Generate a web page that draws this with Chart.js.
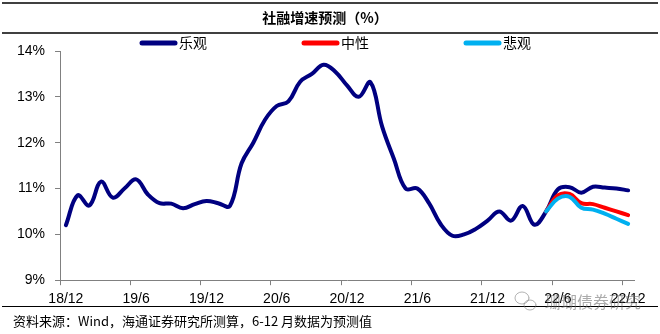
<!DOCTYPE html>
<html>
<head>
<meta charset="utf-8">
<script src="https://cdn.jsdelivr.net/npm/chart.js@4.4.1/dist/chart.umd.min.js"></script>
<style>
  html, body { margin: 0; padding: 0; background: #fff; }
  #wrap { width: 660px; height: 334px; position: relative; }
</style>
</head>
<body>
<div id="wrap"><canvas id="tsfChart"></canvas></div>
<script>
// month categories, 18/12 .. 22/12
const months = [
  '18/12',
  '19/1', '19/2', '19/3', '19/4', '19/5', '19/6', '19/7', '19/8', '19/9', '19/10', '19/11', '19/12',
  '20/1', '20/2', '20/3', '20/4', '20/5', '20/6', '20/7', '20/8', '20/9', '20/10', '20/11', '20/12',
  '21/1', '21/2', '21/3', '21/4', '21/5', '21/6', '21/7', '21/8', '21/9', '21/10', '21/11', '21/12',
  '22/1', '22/2', '22/3', '22/4', '22/5', '22/6', '22/7', '22/8', '22/9', '22/10', '22/11', '22/12'
];

// 乐观 (history + optimistic forecast), %
const optimistic = [
  10.20,
  10.85, 10.63, 11.15, 10.80, 11.00, 11.20, 10.87, 10.68, 10.67, 10.57, 10.66, 10.73,
  10.68, 10.62, 11.55, 12.00, 12.50, 12.80, 12.90, 13.33, 13.50, 13.70, 13.55, 13.25,
  13.00, 13.32, 12.35, 11.65, 11.00, 11.00, 10.68, 10.22, 9.97, 10.00, 10.12, 10.30,
  10.50, 10.30, 10.62, 10.21, 10.50, 10.98, 11.03, 10.91, 11.04, 11.02, 11.00, 10.96
];

// forecast branches start at 22/5
const forecastFrom = '22/5';
const neutral = [10.50, 10.85, 10.88, 10.68, 10.66, 10.58, 10.50, 10.42];
const pessimistic = [10.50, 10.78, 10.82, 10.58, 10.54, 10.45, 10.34, 10.23];

const yTicks = [9, 10, 11, 12, 13, 14];
const labelEvery = 6;

const seriesNames = ['乐观', '中性', '悲观'];
const seriesColors = ['#000080', '#FF0000', '#00B0F0'];

function branch(values) {
  const start = months.indexOf(forecastFrom);
  return values.map((v, i) => ({ x: months[start + i], y: v }));
}

const decor = {
  id: 'decor',
  afterDraw(chart) {
    const ctx = chart.ctx;
    ctx.save();

    // horizontal rules
    ctx.strokeStyle = '#000';
    ctx.lineWidth = 1.5;
    [3, 33].forEach(y => {
      ctx.beginPath(); ctx.moveTo(2, y); ctx.lineTo(658, y); ctx.stroke();
    });
    ctx.lineWidth = 1;
    ctx.beginPath(); ctx.moveTo(2, 306.5); ctx.lineTo(658, 306.5); ctx.stroke();

    // title
    ctx.fillStyle = '#000';
    ctx.font = 'bold 14px "Noto Sans CJK SC"';
    ctx.textAlign = 'center';
    ctx.textBaseline = 'middle';
    ctx.fillText('社融增速预测（%）', 325, 18);

    // legend
    ctx.textAlign = 'left';
    ctx.font = '14px "Noto Sans CJK SC"';
    chart.data.datasets.forEach((ds, i) => {
      const x0 = 142 + i * 162;
      ctx.strokeStyle = ds.borderColor;
      ctx.lineWidth = 5;
      ctx.lineCap = 'round';
      ctx.beginPath(); ctx.moveTo(x0, 43); ctx.lineTo(x0 + 33, 43); ctx.stroke();
      ctx.fillStyle = '#000';
      ctx.fillText(ds.label, x0 + 37, 43);
    });

    // source note
    ctx.font = '13px "Noto Sans CJK SC"';
    ctx.fillStyle = '#000';
    ctx.fillText('资料来源：Wind，海通证券研究所测算，6-12 月数据为预测值', 13, 321);

    // watermark
    ctx.globalAlpha = 0.55;
    ctx.strokeStyle = '#777';
    ctx.lineWidth = 1;
    ctx.beginPath(); ctx.ellipse(522, 298, 7, 6, 0, 0, Math.PI * 2); ctx.stroke();
    ctx.beginPath(); ctx.ellipse(530, 305, 6, 5, 0, 0, Math.PI * 2); ctx.stroke();
    ctx.fillStyle = '#666';
    ctx.font = '16px "Noto Sans CJK SC"';
    ctx.fillText('珊瑚债券研究', 545, 302);

    ctx.restore();
  }
};

new Chart(document.getElementById('tsfChart'), {
  type: 'line',
  data: {
    labels: months,
    datasets: [
      {
        label: seriesNames[0],
        data: optimistic,
        borderColor: seriesColors[0],
        order: 3
      },
      {
        label: seriesNames[1],
        data: branch(neutral),
        borderColor: seriesColors[1],
        order: 2
      },
      {
        label: seriesNames[2],
        data: branch(pessimistic),
        borderColor: seriesColors[2],
        order: 1
      }
    ]
  },
  options: {
    responsive: true,
    maintainAspectRatio: false,
    animation: false,
    layout: { padding: { top: 51, left: 7, right: 26, bottom: 20 } },
    elements: {
      line: { borderWidth: 4, tension: 0.4, borderCapStyle: 'round', borderJoinStyle: 'round', fill: false },
      point: { radius: 0, hoverRadius: 0 }
    },
    plugins: {
      legend: { display: false },
      tooltip: { enabled: false }
    },
    scales: {
      x: {
        type: 'category',
        offset: true,
        border: { color: '#808080', width: 1 },
        grid: {
          offset: true,
          drawOnChartArea: false,
          drawTicks: true,
          tickLength: 5,
          color: (c) => (c.index % labelEvery === 0 ? '#808080' : 'rgba(0,0,0,0)')
        },
        ticks: {
          autoSkip: false,
          maxRotation: 0,
          padding: 6,
          color: '#000',
          font: { family: '"Liberation Sans", Arial, sans-serif', size: 14 },
          callback: function (v, i) { return i % labelEvery === 0 ? this.getLabelForValue(v) : ''; }
        }
      },
      y: {
        min: yTicks[0],
        max: yTicks[yTicks.length - 1],
        afterBuildTicks: (axis) => { axis.ticks = yTicks.map(v => ({ value: v })); },
        border: { color: '#808080', width: 1 },
        grid: { drawOnChartArea: false, drawTicks: true, tickLength: 5, color: '#808080' },
        ticks: {
          padding: 10,
          color: '#000',
          font: { family: '"Liberation Sans", Arial, sans-serif', size: 14 },
          callback: (v) => v + '%'
        }
      }
    }
  },
  plugins: [decor]
});
</script>
</body>
</html>
